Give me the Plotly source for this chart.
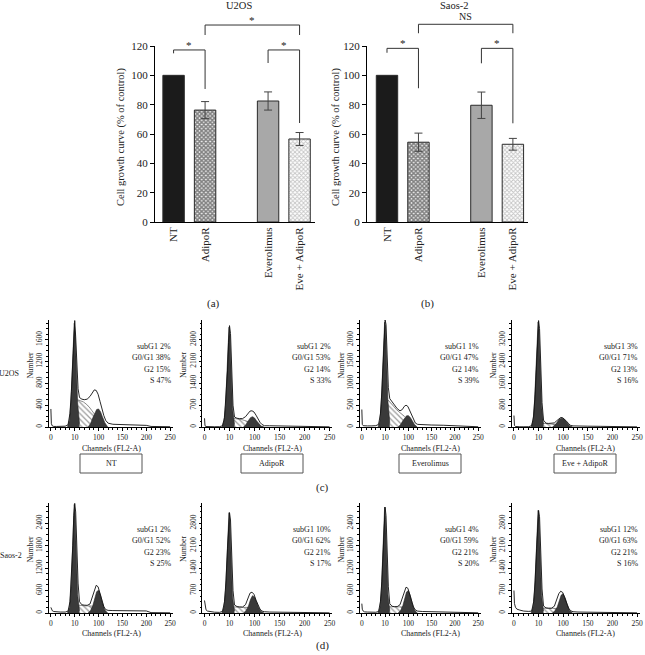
import plotly.graph_objects as go

W, H = 645, 655
FONT = "Liberation Serif"

# ------------------------------------------------------------------ data
GROUPS = ["NT", "AdipoR", "Everolimus", "Eve + AdipoR"]
U2OS_GROWTH = [100, 76.3, 82.5, 56.6]
U2OS_SEM = [0, 5.8, 6.2, 4.4]
SAOS2_GROWTH = [100, 54.4, 79.6, 53.0]
SAOS2_SEM = [0, 6.2, 9.0, 4.0]
# significance tests: (group a, group b, bracket top, leg end a, leg end b, label)
U2OS_TESTS = [(0, 1, 117.3, 115.0, 90.7, "*"),
              (1, 3, 134.3, 127.5, 127.5, "*"),
              (2, 3, 117.3, 108.4, 67.5, "*")]
SAOS2_TESTS = [(0, 1, 118.4, 115.4, 91.2, "*"),
               (1, 3, 134.8, 128.7, 128.7, "NS"),
               (2, 3, 118.4, 108.2, 67.3, "*")]

# flow-cytometry histograms (channel, cell count)
CH_TOTAL = [0, 1, 3, 6, 12, 20, 30, 36, 40, 43, 46, 48, 50, 52, 54, 57, 60, 65, 70,
            76, 82, 87, 91, 95, 99, 103, 107, 111, 115, 120, 130, 150, 175, 200, 210, 230, 250]
CH_G1 = [35, 39, 42, 45, 47, 49, 51, 53, 56, 60]
CH_G2 = [78, 83, 88, 92, 96, 100, 104, 108, 113, 119]
CH_S = [56, 62, 68, 74, 80, 86, 92]

U2OS_TOTAL = [
    [330, 60, 20, 10, 10, 10, 15, 40, 250, 650, 1200, 1700, 1950, 1650, 1150, 700, 540, 510, 500,
     510, 560, 630, 680, 670, 600, 470, 330, 210, 120, 70, 50, 45, 40, 30, 10, 5, 5],
    [280, 40, 15, 10, 8, 8, 10, 40, 300, 900, 1800, 2700, 3250, 3000, 1900, 700, 320, 280, 270,
     270, 330, 430, 510, 520, 480, 380, 260, 150, 80, 40, 40, 35, 20, 10, 5, 5, 5],
    [400, 60, 30, 25, 25, 25, 30, 60, 300, 800, 1500, 2100, 2450, 2350, 1700, 900, 650, 580, 500,
     420, 370, 400, 470, 500, 470, 380, 270, 160, 90, 60, 50, 45, 40, 30, 10, 5, 5],
    [420, 60, 20, 10, 8, 8, 10, 50, 400, 1200, 2400, 3400, 3900, 3600, 2300, 900, 250, 140, 130,
     130, 150, 230, 310, 350, 340, 290, 210, 120, 60, 40, 30, 30, 25, 20, 10, 5, 5],
]
U2OS_G1 = [
    [0, 120, 450, 1050, 1550, 1900, 1700, 1100, 450, 60],
    [0, 200, 700, 1700, 2600, 3200, 2900, 1700, 600, 80],
    [0, 150, 600, 1400, 2000, 2400, 2300, 1500, 600, 100],
    [0, 250, 1000, 2300, 3300, 3850, 3500, 2200, 800, 100],
]
U2OS_G2 = [
    [0, 60, 170, 260, 320, 330, 280, 190, 80, 0],
    [0, 80, 210, 300, 330, 290, 200, 110, 30, 0],
    [0, 50, 140, 210, 255, 260, 220, 150, 60, 0],
    [0, 60, 180, 280, 320, 310, 250, 160, 50, 0],
]
U2OS_S = [
    [500, 480, 460, 420, 370, 300, 230],
    [280, 270, 260, 240, 210, 180, 150],
    [620, 560, 480, 400, 340, 290, 240],
    [140, 130, 120, 110, 100, 90, 80],
]
U2OS_PCT = [(2, 38, 15, 47), (2, 53, 14, 33), (1, 47, 14, 39), (3, 71, 13, 16)]
U2OS_YSTEP = [400, 700, 500, 800]

SAOS2_TOTAL = [
    [150, 100, 60, 40, 30, 25, 25, 50, 300, 900, 1800, 2600, 2930, 2700, 1800, 800, 300, 220, 210,
     205, 240, 420, 620, 740, 700, 520, 330, 170, 90, 70, 65, 60, 60, 55, 10, 5, 5],
    [390, 200, 100, 60, 40, 25, 20, 50, 350, 1000, 2000, 2900, 3130, 2900, 1800, 700, 250, 200, 190,
     185, 260, 480, 620, 650, 580, 400, 240, 120, 60, 40, 30, 25, 20, 15, 10, 5, 5],
    [250, 100, 50, 30, 25, 20, 20, 40, 300, 850, 1700, 2500, 2830, 2600, 1700, 700, 250, 180, 170,
     170, 220, 400, 580, 690, 660, 500, 320, 160, 80, 50, 40, 35, 30, 30, 10, 5, 5],
    [700, 300, 180, 120, 90, 60, 50, 60, 350, 1000, 2000, 2900, 3200, 3000, 1900, 750, 220, 160, 150,
     150, 210, 420, 600, 680, 640, 480, 300, 150, 70, 40, 30, 25, 25, 20, 10, 5, 5],
]
SAOS2_G1 = [
    [0, 150, 600, 1500, 2300, 2900, 2600, 1600, 500, 60],
    [0, 200, 700, 1700, 2600, 3130, 2800, 1600, 500, 60],
    [0, 150, 600, 1400, 2200, 2830, 2500, 1500, 500, 60],
    [0, 200, 700, 1700, 2650, 3200, 2900, 1700, 550, 60],
]
SAOS2_G2 = [
    [0, 60, 200, 400, 570, 610, 480, 280, 80, 0],
    [0, 70, 220, 420, 540, 500, 350, 180, 50, 0],
    [0, 60, 190, 380, 560, 600, 470, 270, 80, 0],
    [0, 60, 190, 380, 560, 600, 470, 270, 80, 0],
]
SAOS2_S = [
    [210, 200, 195, 190, 190, 185, 180],
    [190, 185, 180, 175, 175, 175, 170],
    [170, 170, 165, 165, 160, 160, 160],
    [150, 150, 150, 145, 145, 140, 140],
]
SAOS2_PCT = [(2, 52, 23, 25), (10, 62, 21, 17), (4, 59, 21, 20), (12, 63, 21, 16)]
SAOS2_YSTEP = [600, 700, 600, 700]

X_TICKS = [0, 50, 100, 150, 200, 250]
X_TICKTEXT = ["0", "10", "100", "150", "200", "250"]

# ------------------------------------------------------------------ helpers
def fx(p):
    return p / W


def fy(p):
    return 1 - p / H


def names(n):
    s = "" if n == 1 else str(n)
    return "xaxis" + s, "yaxis" + s, "x" + s, "y" + s


def note(x, y, text, size=8, xanchor="center", yanchor="middle", **kw):
    return dict(x=fx(x), y=fy(y), xref="paper", yref="paper", text=text, showarrow=False,
                xanchor=xanchor, yanchor=yanchor,
                font=dict(family=FONT, size=size, color="#222"), **kw)


fig = go.Figure()
lay = {}
ann = []
shapes = []

# ------------------------------------------------------------------ bar charts
POS = [0, 1, 3, 4]
BAR_STYLE = [
    dict(color="#1b1b1b"),
    dict(color="white", pattern=dict(shape="x", fgcolor="#111111", bgcolor="#f0f0f0",
                                     size=3, solidity=0.75)),
    dict(color="#a8a8a8"),
    dict(color="white", pattern=dict(shape="x", fgcolor="#8a8a8a", bgcolor="white",
                                     size=3, solidity=0.5)),
]

BAR_TOP, BAR_BOT = 46, 222
bars = [
    dict(vals=U2OS_GROWTH, err=U2OS_SEM, tests=U2OS_TESTS, title="U2OS", tx=239,
         panel="(a)", px_=213, xd=(155, 315), xr=(-0.59, 4.49), ytx=121, n=1, nb=3),
    dict(vals=SAOS2_GROWTH, err=SAOS2_SEM, tests=SAOS2_TESTS, title="Saos-2", tx=454,
         panel="(b)", px_=427, xd=(367, 528), xr=(-0.635, 4.48), ytx=336, n=2, nb=4),
]
for b in bars:
    xa, ya, xs, ys = names(b["n"])
    for g in range(4):
        mk = dict(BAR_STYLE[g])
        mk["line"] = dict(color="#2a2a2a", width=1)
        fig.add_trace(go.Bar(
            x=[POS[g]], y=[b["vals"][g]], width=0.68, xaxis=xs, yaxis=ys, marker=mk,
            error_y=dict(type="data", array=[b["err"][g]], visible=b["err"][g] > 0,
                         color="#444", thickness=1, width=4),
            hoverinfo="skip"))
    lay[xa] = dict(domain=[fx(b["xd"][0]), fx(b["xd"][1])], range=list(b["xr"]), anchor=ys,
                   showline=True, linecolor="black", linewidth=1, ticks="",
                   tickvals=POS, ticktext=GROUPS, tickangle=-90,
                   tickfont=dict(family=FONT, size=11, color="#222"),
                   showgrid=False, zeroline=False, fixedrange=True, automargin=False)
    lay[ya] = dict(domain=[fy(BAR_BOT), fy(BAR_TOP)], range=[0, 120], anchor=xs,
                   showline=True, linecolor="black", linewidth=1, ticks="outside",
                   ticklen=4, tickcolor="black", tickvals=list(range(0, 121, 20)),
                   tickfont=dict(family=FONT, size=11, color="#222"),
                   showgrid=False, zeroline=False, fixedrange=True, automargin=False)
    # invisible axes with the same scale, extending above the chart, for brackets
    xb, yb, xbs, ybs = names(b["nb"])
    top_px = 2
    lay[xb] = dict(domain=[fx(b["xd"][0]), fx(b["xd"][1])], range=list(b["xr"]),
                   anchor=ybs, visible=False, fixedrange=True, automargin=False)
    lay[yb] = dict(domain=[fy(BAR_BOT), fy(top_px)],
                   range=[0, 120 * (BAR_BOT - top_px) / (BAR_BOT - BAR_TOP)],
                   anchor=xbs, visible=False, fixedrange=True, automargin=False)
    for (i, j, top, ea, eb, lab) in b["tests"]:
        fig.add_trace(go.Scatter(x=[POS[i], POS[i], POS[j], POS[j]], y=[ea, top, top, eb],
                                 mode="lines", line=dict(color="#333", width=1),
                                 xaxis=xbs, yaxis=ybs, hoverinfo="skip"))
        ann.append(dict(x=(POS[i] + POS[j]) / 2, y=top + (0.5 if lab == "NS" else -2.0),
                        xref=xbs, yref=ybs, text=lab, showarrow=False,
                        xanchor="center", yanchor="bottom",
                        font=dict(family=FONT, size=10 if lab == "NS" else 11, color="#222")))
    ann.append(note(b["tx"], 5, b["title"], size=10.5))
    ann.append(note(b["ytx"], 137, "Cell growth curve (% of control)", size=10.5,
                    textangle=-90))
    ann.append(note(b["px_"], 304, b["panel"], size=11))

# ------------------------------------------------------------------ histograms
COLS = [(48.5, 172.5), (202, 332), (359.5, 480.5), (511.5, 639.5)]
LABEL_X = [111, 272, 430, 585]
ROWS = [
    dict(top=320, bot=427, total=U2OS_TOTAL, g1=U2OS_G1, g2=U2OS_G2, s=U2OS_S,
         pct=U2OS_PCT, step=U2OS_YSTEP, name="U2OS", nx=9, ny=373, chy=448, numy=365),
    dict(top=503, bot=613, total=SAOS2_TOTAL, g1=SAOS2_G1, g2=SAOS2_G2, s=SAOS2_S,
         pct=SAOS2_PCT, step=SAOS2_YSTEP, name="Saos-2", nx=11, ny=555, chy=633, numy=549),
]
DARK = "#3a3a3a"
n = 5
for r, row in enumerate(ROWS):
    for c in range(4):
        xa, ya, xs, ys = names(n)
        step = row["step"][c]
        fig.add_trace(go.Scatter(
            x=CH_S, y=row["s"][c], mode="lines", fill="tozeroy", xaxis=xs, yaxis=ys,
            line=dict(color="#444", width=0.6), fillcolor="white",
            fillpattern=dict(shape="\\", fgcolor="#333", bgcolor="white", size=4, solidity=0.3),
            hoverinfo="skip"))
        for comp, chs in ((row["g1"][c], CH_G1), (row["g2"][c], CH_G2)):
            fig.add_trace(go.Scatter(
                x=chs, y=comp, mode="lines", fill="tozeroy", xaxis=xs, yaxis=ys,
                line=dict(color="#222", width=0.6), fillcolor=DARK, hoverinfo="skip"))
        fig.add_trace(go.Scatter(
            x=CH_TOTAL, y=row["total"][c], mode="lines", xaxis=xs, yaxis=ys,
            line=dict(color="#111", width=0.9), hoverinfo="skip"))
        lay[xa] = dict(domain=[fx(COLS[c][0]), fx(COLS[c][1])], range=[-5, 255], anchor=ys,
                       showline=True, linecolor="black", linewidth=1, ticks="outside",
                       ticklen=2.5, tickcolor="black", tickvals=X_TICKS, ticktext=X_TICKTEXT,
                       tickfont=dict(family=FONT, size=7.5, color="#222"),
                       minor=dict(ticks="outside", ticklen=1.5, dtick=10, tickcolor="black"),
                       showgrid=False, zeroline=False, fixedrange=True, automargin=False)
        lay[ya] = dict(domain=[fy(row["bot"]), fy(row["top"])], range=[0, 4.9 * step],
                       anchor=xs, showline=True, linecolor="black", linewidth=1,
                       ticks="outside", ticklen=2.5, tickcolor="black",
                       tickvals=[k * step for k in range(5)], tickangle=-90,
                       tickfont=dict(family=FONT, size=7.5, color="#222"),
                       minor=dict(ticks="outside", ticklen=1.5, dtick=step / 4, tickcolor="black"),
                       showgrid=False, zeroline=False, fixedrange=True, automargin=False)
        a, g01, g2, s = row["pct"][c]
        for k, txt in enumerate([f"subG1 {a}%", f"G0/G1 {g01}%", f"G2 {g2}%", f"S {s}%"]):
            ann.append(note(COLS[c][1] + 0.5, row["top"] + 26.5 + 11.3 * k, txt,
                            xanchor="right"))
        ann.append(note(LABEL_X[c], row["chy"], "Channels (FL2-A)"))
        ann.append(note(COLS[c][0] - 19, row["numy"], "Number", textangle=-90))
        if r == 0:
            shapes.append(dict(type="rect", xref="paper", yref="paper",
                               x0=fx(LABEL_X[c] - 31), x1=fx(LABEL_X[c] + 31),
                               y0=fy(473), y1=fy(454), line=dict(color="#555", width=1)))
            ann.append(note(LABEL_X[c], 463.5, GROUPS[c]))
        n += 1
    ann.append(note(row["nx"], row["ny"], row["name"]))

ann.append(note(322, 487, "(c)", size=11))
ann.append(note(322, 645, "(d)", size=11))

fig.update_layout(
    width=W, height=H, margin=dict(l=0, r=0, t=0, b=0, pad=0), barmode="overlay",
    paper_bgcolor="white", plot_bgcolor="rgba(0,0,0,0)", showlegend=False,
    annotations=ann, shapes=shapes, font=dict(family=FONT), **lay)

fig.write_html("out.html", config={"displayModeBar": False, "staticPlot": True},
               post_script="document.body.style.margin='0px';")
